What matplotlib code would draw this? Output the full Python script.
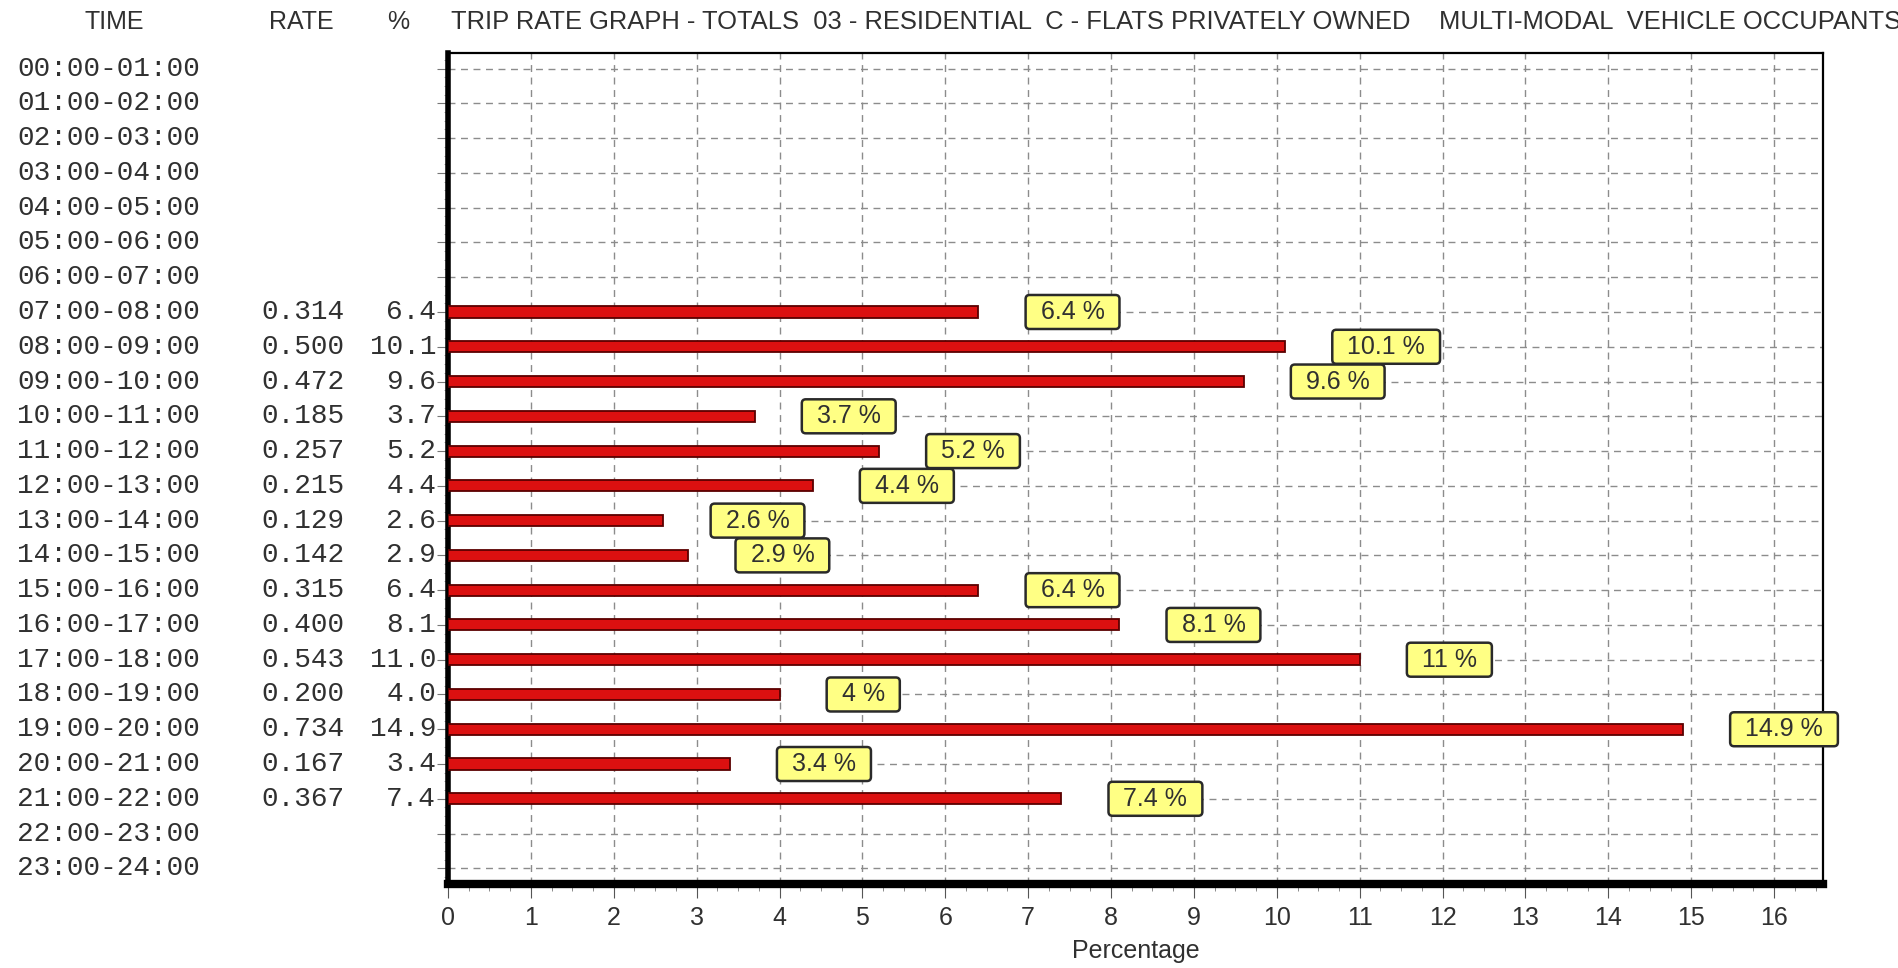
import matplotlib
matplotlib.use("Agg")
import matplotlib.pyplot as plt
import matplotlib.transforms as mtransforms
from matplotlib.patches import BoxStyle
from matplotlib.ticker import MultipleLocator

# --- data ---
times = ["00:00-01:00", "01:00-02:00", "02:00-03:00", "03:00-04:00",
         "04:00-05:00", "05:00-06:00", "06:00-07:00", "07:00-08:00",
         "08:00-09:00", "09:00-10:00", "10:00-11:00", "11:00-12:00",
         "12:00-13:00", "13:00-14:00", "14:00-15:00", "15:00-16:00",
         "16:00-17:00", "17:00-18:00", "18:00-19:00", "19:00-20:00",
         "20:00-21:00", "21:00-22:00", "22:00-23:00", "23:00-24:00"]
rates = [None, None, None, None, None, None, None,
         0.314, 0.500, 0.472, 0.185, 0.257, 0.215, 0.129, 0.142,
         0.315, 0.400, 0.543, 0.200, 0.734, 0.167, 0.367, None, None]
percent = [None, None, None, None, None, None, None,
           6.4, 10.1, 9.6, 3.7, 5.2, 4.4, 2.6, 2.9,
           6.4, 8.1, 11.0, 4.0, 14.9, 3.4, 7.4, None, None]
box_labels = [None, None, None, None, None, None, None,
              "6.4 %", "10.1 %", "9.6 %", "3.7 %", "5.2 %", "4.4 %", "2.6 %", "2.9 %",
              "6.4 %", "8.1 %", "11 %", "4 %", "14.9 %", "3.4 %", "7.4 %", None, None]
x_ticks = list(range(0, 17))
title = ("TRIP RATE GRAPH - TOTALS  03 - RESIDENTIAL  C - FLATS PRIVATELY OWNED"
         "    MULTI-MODAL  VEHICLE OCCUPANTS")

sans = "Liberation Sans"
mono = "Liberation Mono"
text_col = "#303030"


def label_box(x0, y0, width, height, mutation_size):
    # rounded label box, more padding left/right than top/bottom (pixels)
    rnd = BoxStyle.Round(pad=0, rounding_size=4.0 / mutation_size)
    return rnd(x0 - 15, y0 - 5, width + 30, height + 10, mutation_size)


fig = plt.figure(figsize=(18.99, 9.68), dpi=100)
ax = fig.add_axes([0.2359, 0.0868, 0.7241, 0.8585])

rows = [i for i, p in enumerate(percent) if p is not None]
vals = [percent[i] for i in rows]
ax.barh(rows, vals, height=0.32, color="#dc1010", edgecolor="#5a0000", linewidth=1.3, zorder=3)

for i in rows:
    ax.text(percent[i] + 0.75, i, box_labels[i], ha="left", va="center",
            fontsize=18, family=sans, color=text_col, zorder=5,
            bbox=dict(boxstyle=label_box, fc="#ffff84", ec="#2a2a2a", lw=1.8))

ax.set_xlim(0, 16.59)
ax.set_ylim(23.45, -0.45)

# grid: vertical dashes everywhere, horizontal ones start at the label box on bar rows
ax.grid(True, axis="x", which="major", color="#8c8c8c", linestyle=(0, (5, 4)),
        linewidth=1.0, zorder=0)
grid_start = [0 if p is None else p + 0.57 for p in percent]
ax.hlines(range(len(times)), grid_start, 16.59, colors="#8c8c8c",
          linestyles=(0, (5, 4)), linewidth=1.0, zorder=0)

ax.set_xticks(x_ticks)
ax.xaxis.set_minor_locator(MultipleLocator(0.25))
ax.set_xticklabels([str(t) for t in x_ticks], family=sans, fontsize=18, color=text_col)
ax.set_yticks(range(len(times)))
ax.set_yticklabels([])
ax.yaxis.set_minor_locator(MultipleLocator(0.25))
ax.tick_params(axis="x", which="major", length=10, color="#555555", pad=6)
ax.tick_params(axis="x", which="minor", length=5, color="#777777")
ax.tick_params(axis="y", which="major", length=8, color="#777777")
ax.tick_params(axis="y", which="minor", length=3, color="#999999")
for side in ["top", "right"]:
    ax.spines[side].set_linewidth(1.6)
ax.spines["left"].set_linewidth(4)
ax.spines["bottom"].set_linewidth(6)
ax.set_xlabel("Percentage", family=sans, fontsize=18, color=text_col, labelpad=6)

# left hand table of time / rate / percentage
trans = mtransforms.blended_transform_factory(fig.transFigure, ax.transData)
for i, t in enumerate(times):
    ax.text(0.0090, i, t, transform=trans, ha="left", va="center",
            family=mono, fontsize=20, color=text_col, clip_on=False)
    if rates[i] is not None:
        ax.text(0.1812, i, f"{rates[i]:.3f}", transform=trans, ha="right", va="center",
                family=mono, fontsize=20, color=text_col, clip_on=False)
        ax.text(0.2296, i, f"{percent[i]:.1f}", transform=trans, ha="right", va="center",
                family=mono, fontsize=20, color=text_col, clip_on=False)

# header line
fig.text(0.0600, 0.977, "TIME", ha="center", va="center", family=sans, fontsize=18, color=text_col)
fig.text(0.1585, 0.977, "RATE", ha="center", va="center", family=sans, fontsize=18, color=text_col)
fig.text(0.2096, 0.977, "%", ha="center", va="center", family=sans, fontsize=18, color=text_col)
fig.text(0.2375, 0.977, title, ha="left", va="center", family=sans, fontsize=18.4, color=text_col)

fig.savefig("out.png", dpi=100)
